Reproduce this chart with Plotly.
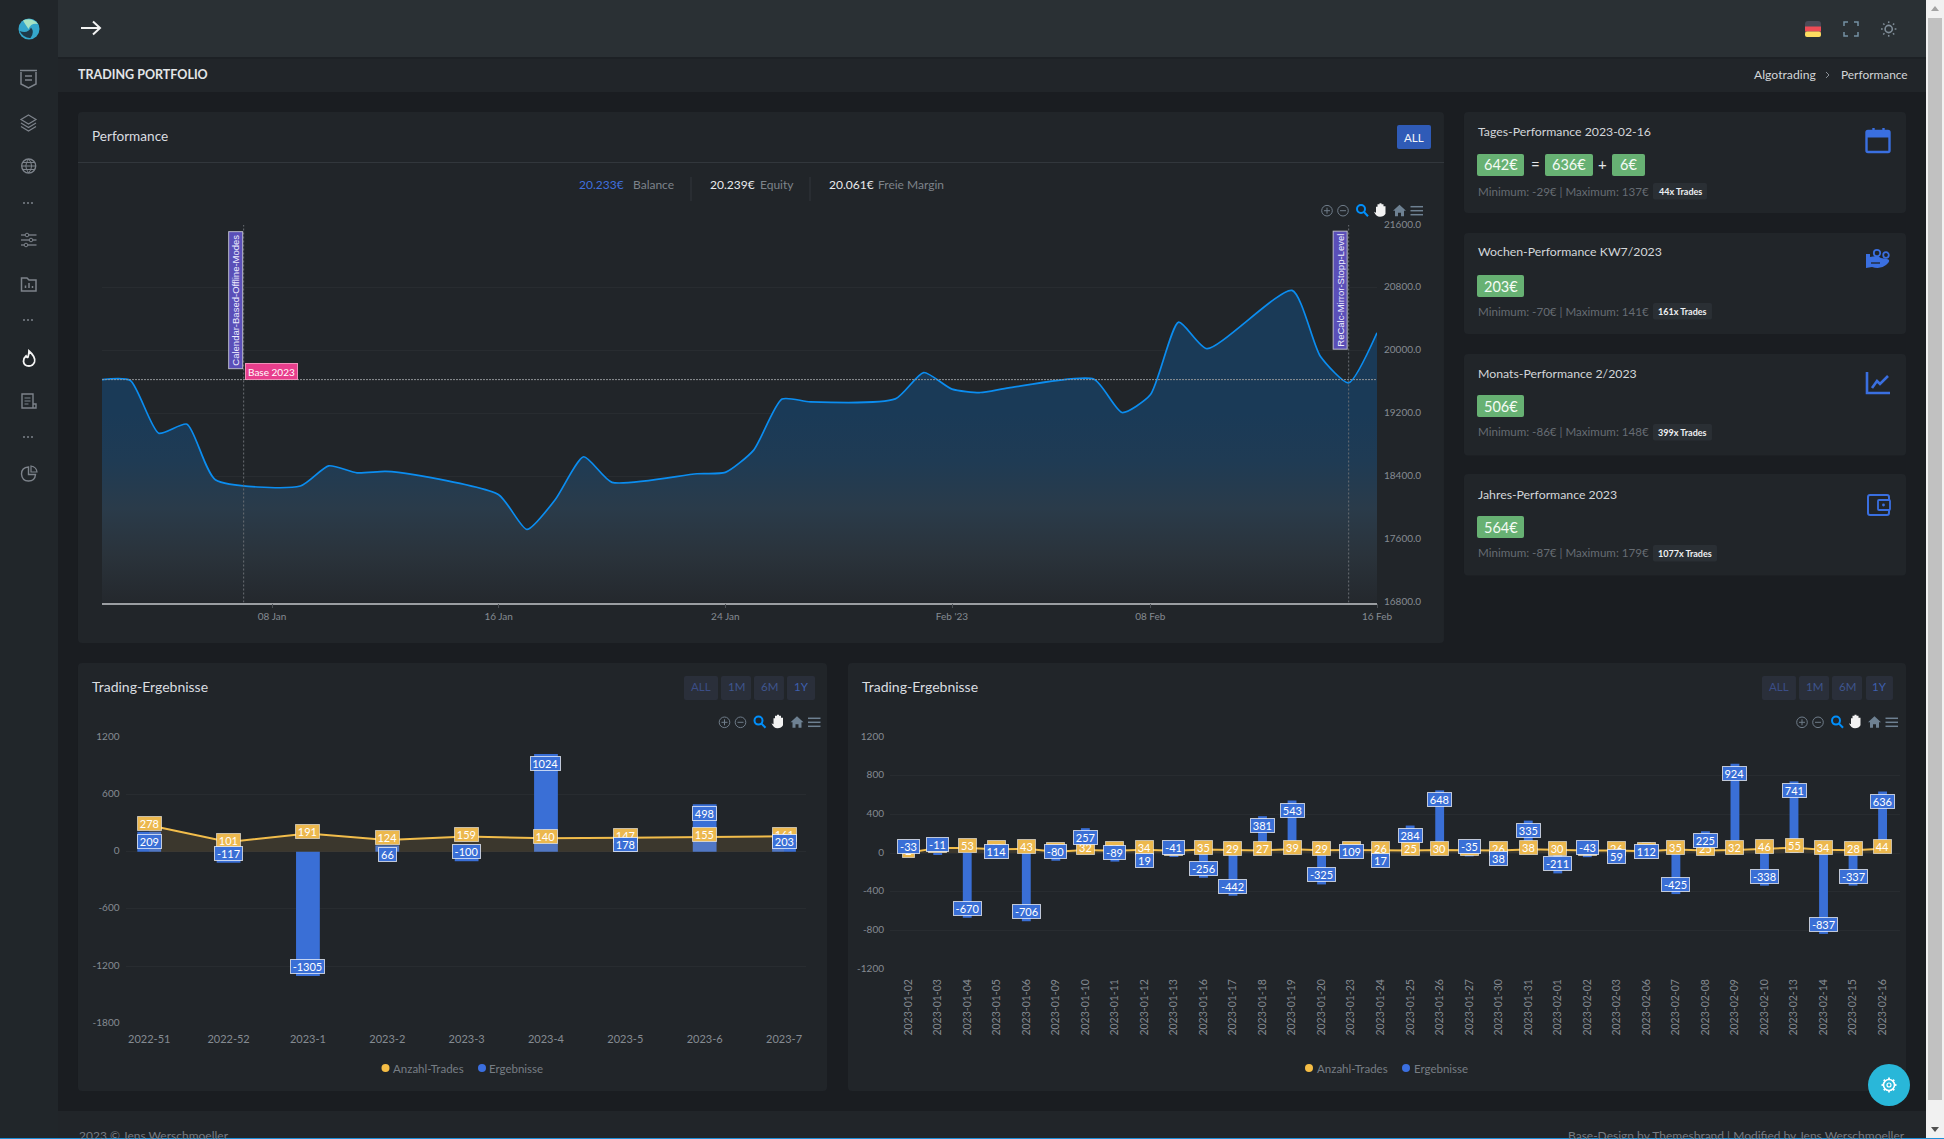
import re
import plotly.graph_objects as go

W, H = 1944, 1139

# ---------- data ----------
balance_dates = ["2023-01-02","2023-01-03","2023-01-04","2023-01-05","2023-01-06","2023-01-09","2023-01-10",
    "2023-01-11","2023-01-12","2023-01-13","2023-01-16","2023-01-17","2023-01-18","2023-01-19","2023-01-20",
    "2023-01-23","2023-01-24","2023-01-25","2023-01-26","2023-01-27","2023-01-30","2023-01-31","2023-02-01",
    "2023-02-02","2023-02-03","2023-02-06","2023-02-07","2023-02-08","2023-02-09","2023-02-10","2023-02-13",
    "2023-02-14","2023-02-15","2023-02-16"]
balance = [19634,19623,18953,19067,18361,18281,18538,18449,18468,18427,18171,17729,18110,18653,18328,
    18437,18454,18738,19386,19351,19389,19724,19513,19470,19529,19641,19216,19441,20365,20027,20768,
    19931,19594,20230]
base_value = 19634
main_y_ticks = [16800,17600,18400,19200,20000,20800,21600]
main_x_ticks = ["2023-01-08","2023-01-16","2023-01-24","2023-02-01","2023-02-08","2023-02-16"]
main_x_labels = ["08 Jan","16 Jan","24 Jan","Feb '23","08 Feb","16 Feb"]

weeks = ["2022-51","2022-52","2023-1","2023-2","2023-3","2023-4","2023-5","2023-6","2023-7"]
week_trades = [278,101,191,124,159,140,147,155,161]
week_results = [209,-117,-1305,66,-100,1024,178,498,203]
week_y_ticks = [-1800,-1200,-600,0,600,1200]

days = balance_dates
day_trades = [2,53,53,40,43,13,32,23,34,22,35,29,27,39,29,30,26,25,30,29,26,38,30,27,26,17,35,25,32,46,55,34,28,44]
day_results = [-33,-11,-670,114,-706,-80,257,-89,19,-41,-256,-442,381,543,-325,109,17,284,648,-35,38,335,-211,-43,
    59,112,-425,225,924,-338,741,-837,-337,636]
day_y_ticks = [-1200,-800,-400,0,400,800,1200]

card_titles = ["Tages-Performance 2023-02-16","Wochen-Performance KW7/2023","Monats-Performance 2/2023","Jahres-Performance 2023"]
card_values = ["203€","506€","564€"]
card_notes = ["Minimum: -29€ | Maximum: 137€","Minimum: -70€ | Maximum: 141€","Minimum: -86€ | Maximum: 148€","Minimum: -87€ | Maximum: 179€"]
card_trades = ["44x Trades","161x Trades","399x Trades","1077x Trades"]

FONT = "Lato"
PAGE, SIDE, TOP, CARD = "#1a1d21", "#21262a", "#2a3034", "#212529"
BLUE, YELLOW, GREEN = "#3a6fd6", "#ecb84e", "#67b173"
GREY, TICK = "#7d838a", "#858b92"

shapes, annos = [], []
X = lambda p: p / W
Y = lambda p: 1 - p / H

def path_conv(d):
    toks = re.findall(r"[MLCQZ]|-?\d+\.?\d*", d)
    out, isx = [], True
    for t in toks:
        if t in "MLCQZ":
            out.append(t); isx = True
        else:
            v = float(t)
            out.append(f"{X(v):.6f}" if isx else f"{Y(v):.6f}")
            isx = not isx
    return " ".join(out)

def path(d, fill=None, line=None, lw=1.2, layer="below"):
    shapes.append(dict(type="path", xref="paper", yref="paper", path=path_conv(d), layer=layer,
                       fillcolor=fill or "rgba(0,0,0,0)", line=dict(color=line or "rgba(0,0,0,0)", width=lw if line else 0)))

def rrect(x0, y0, x1, y1, fill, r=3, layer="below", line=None, lw=1):
    d = (f"M {x0+r} {y0} L {x1-r} {y0} Q {x1} {y0} {x1} {y0+r} L {x1} {y1-r} Q {x1} {y1} {x1-r} {y1} "
         f"L {x0+r} {y1} Q {x0} {y1} {x0} {y1-r} L {x0} {y0+r} Q {x0} {y0} {x0+r} {y0} Z")
    path(d, fill=fill, layer=layer, line=line, lw=lw)

def rect(x0, y0, x1, y1, fill, layer="below"):
    shapes.append(dict(type="rect", xref="paper", yref="paper", x0=X(x0), x1=X(x1), y0=Y(y0), y1=Y(y1),
                       fillcolor=fill, line=dict(width=0), layer=layer))

def circ(cx, cy, r, fill=None, line=None, lw=1.2, layer="below"):
    shapes.append(dict(type="circle", xref="paper", yref="paper", x0=X(cx-r), x1=X(cx+r), y0=Y(cy+r), y1=Y(cy-r),
                       fillcolor=fill or "rgba(0,0,0,0)", line=dict(color=line or "rgba(0,0,0,0)", width=lw if line else 0), layer=layer))

def seg(x0, y0, x1, y1, color, lw=1, layer="below"):
    shapes.append(dict(type="line", xref="paper", yref="paper", x0=X(x0), x1=X(x1), y0=Y(y0), y1=Y(y1),
                       line=dict(color=color, width=lw), layer=layer))

def text(x, y, s, size=13, color="#d6d9dc", anchor="left", bold=False, family=FONT):
    annos.append(dict(xref="paper", yref="paper", x=X(x), y=Y(y), text=f"<b>{s}</b>" if bold else s, showarrow=False,
                      xanchor=anchor, yanchor="middle", font=dict(family=family, size=size, color=color), borderpad=0))

# ---------- page chrome ----------
rect(0, 0, 58, H, SIDE)
rect(58, 0, W, 57.5, TOP)
seg(58, 58, W, 58, "#1c2024", 1.5)
rect(58, 58.5, W, 92, CARD)
rect(58, 1111, W, H, CARD)
rrect(78, 112, 1444, 643, CARD, 4)
seg(78, 162.5, 1444, 162.5, "#32373c", 1)
rrect(78, 663, 827, 1091, CARD, 4)
rrect(848, 663, 1906, 1091, CARD, 4)
for y0, y1 in [(112, 213), (233, 334), (354, 455.5), (474, 575.5)]:
    rrect(1464, y0, 1906, y1, CARD, 4)

# header
path("M 81 28 L 100 28 M 93 21.5 L 100 28 L 93 34.5", line="#f2f2f2", lw=2)
text(76.5, 74.5, "TRADING PORTFOLIO", 12.5, "#e3e5e8", bold=True)
text(1753, 75, "Algotrading", 12.2, "#d2d5d8")
path("M 1826 72 L 1829 75 L 1826 78", line="#8a9097", lw=1)
text(1840, 75, "Performance", 11.9, "#d2d5d8")
# flag
rrect(1805, 21, 1821, 37, "#4a4a57", 3)
rect(1805, 26.5, 1821, 31.5, "#ee4b55")
rrect(1805, 31.5, 1821, 37, "#fddc60", 2)
# fullscreen
path("M 1844 26 L 1844 22 L 1848 22 M 1854 22 L 1858 22 L 1858 26 M 1858 32 L 1858 36 L 1854 36 M 1848 36 L 1844 36 L 1844 32",
     line="#7490a3", lw=1.5)
# sun
circ(1888.7, 29, 3.6, line="#7f8c97", lw=1.6)
for dx, dy in [(0,-7),(0,7),(-7,0),(7,0),(-5,-5),(5,5),(-5,5),(5,-5)]:
    seg(1888.7+dx*.85, 29+dy*.85, 1888.7+dx*1.1, 29+dy*1.1, "#7f8c97", 1.5)

# sidebar icons
IC = "#7d838b"
circ(29, 29, 10.5, fill="#35a7cc")
path("M 23 20.5 Q 32 17 38 24 Q 31 22.5 28.5 29 Q 25 24 23 20.5 Z", fill="#a6e3c4")
path("M 19.5 31 Q 28 34 31 27.5 Q 35 32 30.5 38 Q 24 38.5 19.5 31 Z", fill="#1f3a4a")
path("M 20 70.5 L 37 70.5 M 21 72 L 21 84 L 28.5 88 L 36 84 L 36 72", line=IC, lw=1.5)
path("M 25 76 L 32 76 M 25 80 L 32 80", line=IC, lw=1.3)
path("M 28.5 115 L 36 119.5 L 28.5 124 L 21 119.5 Z", line=IC, lw=1.2)
path("M 21 123 L 28.5 127.5 L 36 123 M 21 126.5 L 28.5 131 L 36 126.5", line=IC, lw=1.2)
circ(28.7, 166, 7, line=IC, lw=1.4)
path("M 22 166 L 36 166 M 22.5 162.5 L 35 162.5 M 22.5 169.5 L 35 169.5 M 28.7 159 Q 23 166 28.7 173 M 28.7 159 Q 34.5 166 28.7 173", line=IC, lw=1)
for yy in (203, 320, 437):
    for xx in (24, 28, 32):
        circ(xx, yy, 1, fill=IC)
for yy, xx in [(235, 27), (240, 31), (245, 26)]:
    seg(21, yy, 36.5, yy, IC, 1.3)
    circ(xx, yy, 1.8, fill=SIDE, line=IC, lw=1)
path("M 21.5 278 L 27 278 L 29 280 L 36 280 L 36 291 L 21.5 291 Z", line=IC, lw=1.5)
path("M 25.5 288 L 25.5 285.5 M 29 288 L 29 283 M 32.5 288 L 32.5 286", line=IC, lw=1.5)
path("M 29 351 Q 36 357 34.5 362 Q 33 366 29 366 Q 24 366 23.5 361.5 Q 23.5 358 26 356 Q 27 358 28 357 Q 29 354 29 351 Z", line="#f5f5f5", lw=1.8)
path("M 22 394 L 33 394 L 33 408 L 22 408 Z M 33 404 L 36 404 L 36 408 L 33 408", line=IC, lw=1.4)
path("M 24.5 398 L 30.5 398 M 24.5 401 L 30.5 401 M 24.5 404 L 28.5 404", line=IC, lw=1.2)
path("M 28.5 467 Q 21.5 467.5 21.5 474 Q 22 481 28.5 481 Q 35 481 35.5 474.5 L 28.5 474.5 Z", line=IC, lw=1.4)
path("M 31 466 Q 36.5 467 37 472 L 31 472 Z", line=IC, lw=1.2)

# main chart panel text
text(90.5, 135.5, "Performance", 13.6, "#dadde0")
rrect(1397, 125, 1431, 149, "#2f5bb7", 2)
text(1414, 137, "ALL", 11.5, "#f2f4f8", "center")
text(578, 185, "20.233€", 12, "#3f6fdc")
text(632, 185, "Balance", 12, GREY)
seg(691, 177, 691, 201, "#32373c")
text(708.5, 185, "20.239€", 12, "#e8eaec")
text(759, 185, "Equity", 12, GREY)
seg(810, 177, 810, 201, "#32373c")
text(827.5, 185, "20.061€", 12, "#e8eaec")
text(877, 185, "Freie Margin", 12, GREY)

def toolbar(x, y):
    c = "#6f7c89"
    circ(x, y, 5.3, line=c, lw=1)
    seg(x-3, y, x+3, y, c); seg(x, y-3, x, y+3, c)
    circ(x+16, y, 5.3, line=c, lw=1)
    seg(x+13, y, x+19, y, c)
    circ(x+34, y-1.7, 4, line="#008ffb", lw=2)
    seg(x+37, y+1.3, x+41, y+5.5, "#008ffb", 2)
    path(f"M {x+47} {y+1} L {x+49} {y+2} L {x+49} {y-4} L {x+50.5} {y-4} L {x+50.5} {y-6.5} L {x+52.5} {y-6.5} L {x+52.5} {y-7.5} L {x+54.5} {y-7.5} L {x+54.5} {y-6.5} L {x+56.5} {y-6.5} L {x+56.5} {y-4.5} L {x+58.5} {y-4.5} L {x+58.5} {y+3} Q {x+57} {y+6} {x+53} {y+6} Q {x+49} {y+6} {x+47} {y+1} Z", fill="#f2f2f2")
    path(f"M {x+66} {y} L {x+72.5} {y-6} L {x+79} {y} L {x+77} {y} L {x+77} {y+5.5} L {x+74} {y+5.5} L {x+74} {y+2} L {x+71} {y+2} L {x+71} {y+5.5} L {x+68} {y+5.5} L {x+68} {y} Z", fill="#6e8192")
    for dy in (-4, 0, 4):
        seg(x+83.5, y+dy, x+96, y+dy, "#6e8192", 1.5)

toolbar(1327, 210.7)
toolbar(724.5, 722.3)
toolbar(1802, 722.3)

# right hand cards
def badge(x0, x1, y0, y1, s):
    rrect(x0, y0, x1, y1, GREEN, 2)
    text((x0+x1)/2, (y0+y1)/2, s, 14.5, "#f4fbf5", "center")

title_ys = [131, 252, 373, 494]
note_ys = [191, 311, 432, 553]
tag_right = [1707, 1712, 1712, 1717]
for t, ty, ny, note, tr, tr_x in zip(card_titles, title_ys, note_ys, card_notes, card_trades, tag_right):
    text(1477, ty, t, 12.3, "#d3d6d9")
    text(1477, ny, note, 11.6, "#666c73")
    rrect(1653, ny-8, tr_x, ny+8.5, "#2a2f34", 2)
    text((1653+tr_x)/2, ny+0.5, tr, 9, "#eef0f2", "center", bold=True)
badge(1477, 1524, 154, 176, "642€")
text(1535, 164, "=", 15, "#e4e6e8", "center")
badge(1545, 1593, 154, 176, "636€")
text(1602.5, 164, "+", 15, "#e4e6e8", "center")
badge(1612, 1645, 154, 176, "6€")
for v, (y0, y1) in zip(card_values, [(275, 297), (395, 417), (516, 538)]):
    badge(1477, 1524, y0, y1, v)

# card icons
IB = "#3a6fe0"
rrect(1866.5, 131, 1889.5, 152, "rgba(0,0,0,0)", 1.5, line=IB, lw=2.4)
rect(1866.5, 131, 1889.5, 137.5, IB)
seg(1873.5, 128, 1873.5, 133, IB, 2.4); seg(1883.5, 128, 1883.5, 133, IB, 2.4)
path("M 1866 254 L 1870 254 L 1870 257 Q 1878 255 1881 258 L 1887 259 Q 1892 260 1886 265 Q 1880 270 1872 267 L 1866 268 Z", fill=IB)
path("M 1871 263 L 1880 263", line=CARD, lw=1.3)
circ(1877, 253, 3.2, line=IB, lw=1.8)
circ(1886, 255, 2.8, line=IB, lw=1.8)
path("M 1867 372 L 1867 393 L 1890 393", line=IB, lw=2.6)
path("M 1872 388 L 1877 381 L 1880 384 L 1888 376", line=IB, lw=2.6)
rrect(1868, 495, 1889, 515, "rgba(0,0,0,0)", 2, line=IB, lw=2)
rrect(1878, 500, 1890, 510, CARD, 1, line=IB, lw=1.8)
circ(1883.5, 505, 1.4, fill=IB)

# lower panels
def buttons(boxes):
    cols = ["#3b4d86", "#3f568f", "#3f568f", "#3e5fb0"]
    for (x0, x1), lab, c in zip(boxes, ["ALL", "1M", "6M", "1Y"], cols):
        rrect(x0, 676, x1, 700, "#2a2f3a", 2)
        text((x0+x1)/2, 686.5, lab, 11.5, c, "center")

text(90.5, 686.7, "Trading-Ergebnisse", 14, "#dadde0")
buttons([(684, 718), (721, 751), (754, 784), (787, 815)])
text(860.5, 686.7, "Trading-Ergebnisse", 14, "#dadde0")
buttons([(1762, 1796), (1799, 1829), (1832, 1862), (1866, 1893)])

def legend(d1, t1, d2, t2):
    circ(d1, 1068, 4, fill="#f5bd45")
    text(t1, 1068, "Anzahl-Trades", 11.5, "#777d84")
    circ(d2, 1068, 4, fill="#3b6fe0")
    text(t2, 1068, "Ergebnisse", 11.5, "#777d84")

legend(385.5, 392, 482, 488)
legend(1309, 1316, 1406, 1412.5)

# footer
text(78, 1135, "2023 © Jens Werschmoeller", 12, "#767c83")
text(1906, 1135, "Base-Design by Themesbrand | Modified by Jens Werschmoeller", 12, "#767c83", "right")

# settings button
circ(1889, 1085, 21, fill="#29b7d9", layer="above")
circ(1889, 1085, 5.5, line="#ffffff", lw=1.6, layer="above")
circ(1889, 1085, 2, line="#ffffff", lw=1.2, layer="above")
for dx, dy in [(0,-1),(0,1),(-1,0),(1,0),(-.7,-.7),(.7,.7),(-.7,.7),(.7,-.7)]:
    seg(1889+dx*5.5, 1085+dy*5.5, 1889+dx*7.5, 1085+dy*7.5, "#ffffff", 1.8, "above")

# scrollbar and window edge
rect(1926, 0, W, H, "#f1f1f1", "above")
rect(1928, 18, 1942, 1100, "#c1c1c1", "above")
path("M 1931 11 L 1935 6 L 1939 11 Z", fill="#a3a3a3", layer="above")
path("M 1931 1127 L 1939 1127 L 1935 1132 Z", fill="#505050", layer="above")
rect(0, 1138, W, H, "#1c8fd8", "above")

# ---------- traces ----------
fig = go.Figure()
fig.add_trace(go.Scatter(x=balance_dates, y=balance, mode="lines", line=dict(color="#0b8df0", width=1.7, shape="spline", smoothing=0.6),
    fill="tozeroy", fillgradient=dict(type="vertical", start=16800, stop=20800,
        colorscale=[[0, "#24282d"], [0.15, "#2a333b"], [0.3, "#2a3b4a"], [0.45, "#1f3b54"], [0.6, "#1a3a57"], [1, "#1a3a57"]]),
    xaxis="x", yaxis="y", hoverinfo="skip", showlegend=False))
for xa, ya, cats, trades, results in [("x2", "y2", weeks, week_trades, week_results), ("x3", "y3", days, day_trades, day_results)]:
    fig.add_trace(go.Bar(x=cats, y=results, marker=dict(color=BLUE, line=dict(width=0)), xaxis=xa, yaxis=ya, name="Ergebnisse", hoverinfo="skip", showlegend=False))
    fig.add_trace(go.Scatter(x=cats, y=trades, mode="lines", line=dict(color="#f2bd4b", width=2), fill="tozeroy", fillcolor="rgba(241,180,76,0.13)",
        xaxis=xa, yaxis=ya, name="Anzahl-Trades", hoverinfo="skip", showlegend=False))

# reference lines and their labels on the balance chart
for d in ("2023-01-07", "2023-02-15"):
    shapes.append(dict(type="line", xref="x", yref="y", x0=d, x1=d, y0=16800, y1=21600, line=dict(color="#6a6e73", width=1, dash="2px,2px")))
shapes.append(dict(type="line", xref="x", yref="y", x0="2023-01-02", x1="2023-02-16", y0=base_value, y1=base_value, line=dict(color="#8f9296", width=1, dash="2px,1px")))
LF = "Liberation Sans"
annos.append(dict(xref="x", yref="y", x="2023-01-07", y=21600, yshift=-6, xshift=-1, xanchor="right", yanchor="top", showarrow=False, textangle=-90,
    text="Calendar-Based-Offline-Modes", font=dict(family=LF, size=9.5, color="#eeeeff"), bgcolor="#5a4fb8", bordercolor="#b9b9c9", borderwidth=1, borderpad=1, width=134, height=11))
annos.append(dict(xref="x", yref="y", x="2023-02-15", y=21600, yshift=-6, xshift=-1, xanchor="right", yanchor="top", showarrow=False, textangle=-90,
    text="ReCalc-Mirror-Stopp-Level", font=dict(family=LF, size=9.5, color="#eeeeff"), bgcolor="#5a4fb8", bordercolor="#b9b9c9", borderwidth=1, borderpad=1, width=115, height=11))
annos.append(dict(xref="x", yref="y", x="2023-01-07", y=base_value, xshift=1, xanchor="left", yanchor="bottom", showarrow=False,
    text="Base 2023", font=dict(family=FONT, size=10, color="#ffffff"), bgcolor="#e83e8c", bordercolor="#f090b8", borderwidth=1, borderpad=2, height=11))

def box_w(v):
    s = str(v)
    return len(s.replace("-", "")) * 5.9 + (4.3 if v < 0 else 0) + 3

def labels(xa, ya, cats, trades, results):
    for c, v in zip(cats, trades):
        annos.append(dict(xref=xa, yref=ya, x=c, y=v, yshift=2, showarrow=False, text=str(v), xanchor="center", yanchor="middle",
            font=dict(family=FONT, size=11, color="#ffffff"), bgcolor=YELLOW, bordercolor="rgba(255,255,255,0.55)", borderwidth=1, borderpad=1, width=box_w(v), height=11))
    for c, v in zip(cats, results):
        annos.append(dict(xref=xa, yref=ya, x=c, y=v, yshift=-9.5 if v > 0 else 9.5, showarrow=False, text=str(v), xanchor="center", yanchor="middle",
            font=dict(family=FONT, size=11, color="#ffffff"), bgcolor=BLUE, bordercolor="rgba(255,255,255,0.7)", borderwidth=1, borderpad=1, width=box_w(v), height=11))

labels("x2", "y2", weeks, week_trades, week_results)
labels("x3", "y3", days, day_trades, day_results)

GRID = "rgba(255,255,255,0.035)"
def dom_x(a, b): return [a / W, b / W]
def dom_y(top, bottom): return [1 - bottom / H, 1 - top / H]
tick_font = dict(family=FONT, size=10, color=TICK)

fig.update_layout(
    width=W, height=H, margin=dict(l=0, r=0, t=0, b=0, pad=0), autosize=False,
    paper_bgcolor=PAGE, plot_bgcolor="rgba(0,0,0,0)", barmode="overlay", bargap=0.7, showlegend=False,
    font=dict(family=FONT), shapes=shapes, annotations=annos,
    xaxis=dict(domain=dom_x(102, 1377), anchor="y", type="date", range=["2023-01-02", "2023-02-16"], tickmode="array", automargin=False,
        tickvals=main_x_ticks, ticktext=main_x_labels, showgrid=False, zeroline=False, showline=True, linecolor="#9b9ea2", linewidth=1.5,
        ticks="outside", ticklen=4, tickcolor="#4a4e53", tickfont=tick_font),
    yaxis=dict(domain=dom_y(225, 602.5), anchor="x", side="right", range=[16800, 21600], tickmode="array", tickvals=main_y_ticks, automargin=False,
        ticktext=[f"{v}.0" for v in main_y_ticks], gridcolor=GRID, zeroline=False, showline=False, ticks="", tickfont=tick_font, ticklabelstandoff=6, ticklabelshift=-1),
    xaxis2=dict(domain=dom_x(125.5, 805.6), anchor="y2", type="category", categoryorder="array", categoryarray=weeks, range=[-0.299, 8.272], automargin=False,
        showgrid=False, zeroline=False, showline=False, ticks="", tickfont=dict(family=FONT, size=11, color=TICK), tickangle=0, ticklabelstandoff=8),
    yaxis2=dict(domain=dom_y(737.3, 1023.3), anchor="x2", range=[-1800, 1200], tickmode="array", tickvals=week_y_ticks, ticktext=[str(v) for v in week_y_ticks], gridcolor=GRID, automargin=False,
        zeroline=False, showline=False, ticks="", tickfont=tick_font, ticklabelstandoff=5, ticklabelshift=-1),
    xaxis3=dict(domain=dom_x(890, 1900), anchor="y3", type="category", categoryorder="array", categoryarray=days, range=[-0.616, 33.59], automargin=False,
        showgrid=False, zeroline=False, showline=False, ticks="", tickangle=-90, tickfont=dict(family=FONT, size=10.5, color=TICK), ticklabelstandoff=7),
    yaxis3=dict(domain=dom_y(737, 969), anchor="x3", range=[-1200, 1200], tickmode="array", tickvals=day_y_ticks, ticktext=[str(v) for v in day_y_ticks], gridcolor=GRID, automargin=False,
        zeroline=False, showline=False, ticks="", tickfont=tick_font, ticklabelstandoff=5, ticklabelshift=-1),
)

fig.write_html("out.html", config=dict(displayModeBar=False),
    post_script="document.body.style.margin='0';document.documentElement.style.overflow='hidden';")
